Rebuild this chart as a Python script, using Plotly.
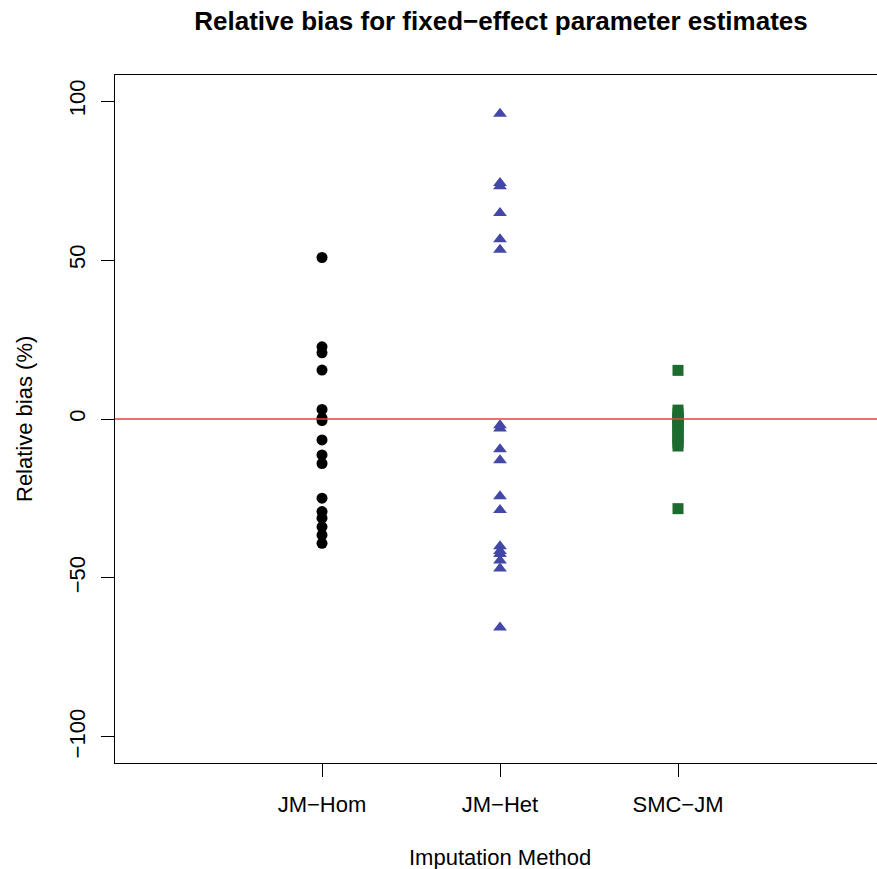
import plotly.graph_objects as go

methods = ["JM−Hom", "JM−Het", "SMC−JM"]

jm_hom = [50.8, 22.7, 20.8, 15.4, 3.0, 0.3, -0.5, -6.6, -11.3, -14.0,
          -24.9, -29.1, -31.2, -33.9, -36.5, -39.1]
jm_het = [96.0, 74.2, 73.2, 64.8, 56.5, 53.2, -2.0, -3.0, -9.5, -13.0,
          -24.3, -28.6, -40.0, -41.5, -42.5, -44.5, -47.0, -65.6]
smc_jm = [15.3, 2.8, 1.8, 0.8, 0.2, -0.3, -1.0, -1.8, -2.6, -3.5, -4.5,
          -5.5, -6.5, -7.5, -8.5, -28.2]

y_ticks = [-100, -50, 0, 50, 100]

FONT = "Liberation Sans, Arial, Helvetica, sans-serif"

fig = go.Figure()
fig.add_trace(go.Scatter(x=[methods[0]] * len(jm_hom), y=jm_hom, mode="markers",
                         marker=dict(symbol="circle", size=11, color="#000000"),
                         showlegend=False))
fig.add_trace(go.Scatter(x=[methods[1]] * len(jm_het), y=jm_het, mode="markers",
                         marker=dict(symbol="triangle-up", size=12, color="#4347A6"),
                         showlegend=False))
fig.add_trace(go.Scatter(x=[methods[2]] * len(smc_jm), y=smc_jm, mode="markers",
                         marker=dict(symbol="square", size=11, color="#1E6B2F"),
                         showlegend=False))

fig.add_shape(type="line", xref="paper", x0=0, x1=1, yref="y", y0=0, y1=0,
              line=dict(color="#D9483E", width=1.5), layer="above")

PW = 877 - 115
PH = 763 - 75

fig.update_layout(
    width=877, height=869,
    margin=dict(l=115, r=0, t=75, b=106, autoexpand=False),
    paper_bgcolor="white", plot_bgcolor="white",
    font=dict(family=FONT, size=22, color="#000000"),
    title=dict(text="<b>Relative bias for fixed−effect parameter estimates</b>",
               xref="container", x=501 / 877, xanchor="center",
               yref="container", y=1 - 21 / 869, yanchor="middle",
               font=dict(size=26)),
    xaxis=dict(type="category", categoryorder="array", categoryarray=methods,
               range=[-1.163, 3.118], showgrid=False, zeroline=False,
               showline=True, linecolor="#000000", linewidth=1, mirror=True,
               ticks="outside", ticklen=13, tickcolor="#000000",
               ticklabelstandoff=9, tickfont=dict(size=22), automargin=False),
    yaxis=dict(range=[-108.2, 108.2], tickvals=y_ticks, showgrid=False,
               zeroline=False, showline=True, linecolor="#000000", linewidth=1,
               mirror=False, ticks="outside", ticklen=13, tickcolor="#000000",
               tickangle=-90, ticklabelstandoff=7, tickfont=dict(size=22),
               automargin=False),
    annotations=[
        dict(text="Imputation Method", xref="paper", yref="paper",
             x=(500 - 115) / PW, y=-(858 - 763) / PH, xanchor="center",
             yanchor="middle", showarrow=False, font=dict(size=22)),
        dict(text="Relative bias (%)", xref="paper", yref="paper",
             x=-(115 - 24) / PW, y=(763 - 419) / PH, xanchor="center",
             yanchor="middle", textangle=-90, showarrow=False,
             font=dict(size=22)),
    ],
)

fig.write_html("out.html",
               config={"displayModeBar": False},
               post_script="document.body.style.margin='0';"
                           "document.body.style.overflow='hidden';")
